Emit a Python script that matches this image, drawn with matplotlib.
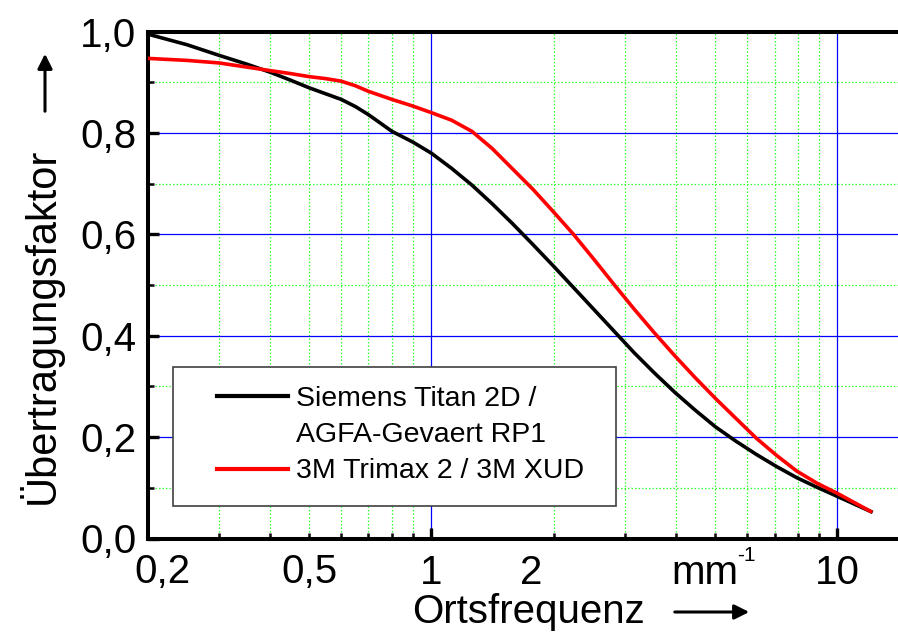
import matplotlib
matplotlib.use("Agg")
import matplotlib.pyplot as plt
from matplotlib.lines import Line2D
from matplotlib.patches import Rectangle, FancyArrowPatch
from matplotlib.ticker import FixedLocator, NullFormatter

plt.rcParams['font.family'] = ['Liberation Sans', 'DejaVu Sans']

# Daten
x_siemens = [0.2, 0.25, 0.3, 0.35, 0.4, 0.45, 0.5, 0.55, 0.6, 0.65, 0.7, 0.75, 0.8, 0.9, 1.0,
             1.122, 1.259, 1.413, 1.585, 1.778, 1.995, 2.239, 2.512, 2.818, 3.162, 3.548,
             3.981, 4.467, 5.012, 5.623, 6.31, 7.08, 7.94, 8.91, 10.0, 12.1]
y_siemens = [0.995, 0.974, 0.953, 0.936, 0.920, 0.904, 0.889, 0.877, 0.866, 0.852, 0.836, 0.819, 0.803, 0.782, 0.760,
             0.730, 0.697, 0.660, 0.621, 0.580, 0.538, 0.495, 0.452, 0.409, 0.366, 0.326,
             0.288, 0.253, 0.220, 0.192, 0.166, 0.142, 0.120, 0.101, 0.083, 0.053]

x_trimax = [0.2, 0.25, 0.3, 0.35, 0.4, 0.45, 0.5, 0.55, 0.6, 0.65, 0.7, 0.8, 0.9, 1.0,
            1.122, 1.259, 1.413, 1.585, 1.778, 1.995, 2.239, 2.512, 2.818, 3.162, 3.548,
            3.981, 4.467, 5.012, 5.623, 6.31, 7.08, 7.94, 8.91, 10.0, 12.1]
y_trimax = [0.947, 0.943, 0.938, 0.930, 0.923, 0.917, 0.911, 0.907, 0.902, 0.893, 0.882, 0.866, 0.853, 0.840,
            0.825, 0.803, 0.769, 0.729, 0.689, 0.645, 0.600, 0.551, 0.501, 0.452, 0.405,
            0.360, 0.317, 0.276, 0.237, 0.198, 0.164, 0.133, 0.109, 0.089, 0.053]

labels = ['Siemens Titan 2D /', 'AGFA-Gevaert RP1', '3M Trimax 2 / 3M XUD']
xticks = [0.2, 0.5, 1, 2, 10]
xticklabels = ['0,2', '0,5', '1', '2', '10']
yticks = [0.0, 0.2, 0.4, 0.6, 0.8, 1.0]
yticklabels = ['0,0', '0,2', '0,4', '0,6', '0,8', '1,0']

W, H = 898, 632
fig = plt.figure(figsize=(W / 100, H / 100), dpi=100)
ax = fig.add_axes([147.5 / W, 1 - 538.5 / H, 1 - 147.5 / W, (538.5 - 31.5) / H])

ax.plot(x_siemens, y_siemens, color='black', lw=2.6, zorder=3)
ax.plot(x_trimax, y_trimax, color='red', lw=2.6, zorder=3, solid_capstyle='round')

ax.set_xscale('log')
ax.set_xlim(0.2, 14.1)
ax.set_ylim(0, 1.0)

ax.xaxis.set_major_locator(FixedLocator([1, 10]))
ax.xaxis.set_minor_locator(FixedLocator([0.3, 0.4, 0.5, 0.6, 0.7, 0.8, 0.9, 2, 3, 4, 5, 6, 7, 8, 9]))
ax.xaxis.set_major_formatter(NullFormatter())
ax.xaxis.set_minor_formatter(NullFormatter())
ax.set_yticks(yticks)
ax.set_yticks([0.1, 0.3, 0.5, 0.7, 0.9], minor=True)
ax.set_yticklabels(yticklabels, fontsize=29)

ax.grid(which='major', color='#0000ff', lw=0.9)
ax.grid(which='minor', color='#33ff33', lw=0.9, linestyle=(0, (1.2, 1.6)))
ax.set_axisbelow(True)

ax.tick_params(which='major', direction='in', length=8, width=2.4, pad=8, top=False, right=False)
ax.tick_params(which='minor', direction='in', length=4.5, width=1.8, top=False, right=False)

for side in ['left', 'bottom', 'top']:
    ax.spines[side].set_linewidth(2.9)
ax.spines['right'].set_visible(False)

# x-Beschriftungen
for xv, txt in zip(xticks, xticklabels):
    dx = 0
    if txt == '0,2':
        dx = 15
    if txt == '2':
        dx = -22
    ax.annotate(txt, xy=(xv, 0), xycoords=('data', 'axes fraction'),
                xytext=(dx * 0.72, -32.4), textcoords='offset points',
                ha='center', va='baseline', fontsize=29)
ax.annotate('mm', xy=(3.91, 0), xycoords=('data', 'axes fraction'),
            xytext=(0, -32.4), textcoords='offset points',
            ha='left', va='baseline', fontsize=29)
ax.annotate('-1', xy=(5.67, 0), xycoords=('data', 'axes fraction'),
            xytext=(0, -16.5), textcoords='offset points',
            ha='left', va='baseline', fontsize=15)

# Legende
rect = Rectangle((173, H - 506), 443, 139, transform=None,
                 facecolor='white', edgecolor='#404040', lw=1.2, zorder=4)
ax.add_artist(rect)
handles = [Line2D([], [], color='black', lw=3),
           Line2D([], [], color='none', lw=3),
           Line2D([], [], color='red', lw=3)]
leg = ax.legend(handles, labels, loc='upper left', frameon=False, fontsize=20.5,
                bbox_to_anchor=(217 / W, 1 - 386 / H), bbox_transform=fig.transFigure,
                borderpad=0, handlelength=2.5, handletextpad=0.28, labelspacing=0.36,
                borderaxespad=0)
leg.set_zorder(5)

# Achsentitel
fig.text(528 / W, 1 - 623 / H, 'Ortsfrequenz', ha='center', va='baseline', fontsize=29)
fig.text(40 / W, 1 - 326 / H, 'Übertragungsfaktor', rotation=90, ha='center', va='center', fontsize=30)
fig.add_artist(FancyArrowPatch(
    (672 / W, 1 - 612 / H), (752 / W, 1 - 612 / H), transform=fig.transFigure,
    arrowstyle='-|>', mutation_scale=22, lw=2.2, color='black'))
fig.add_artist(FancyArrowPatch(
    (45 / W, 1 - 114 / H), (45 / W, 1 - 51 / H), transform=fig.transFigure,
    arrowstyle='-|>', mutation_scale=22, lw=2.2, color='black'))

fig.savefig('out.png', dpi=100)
